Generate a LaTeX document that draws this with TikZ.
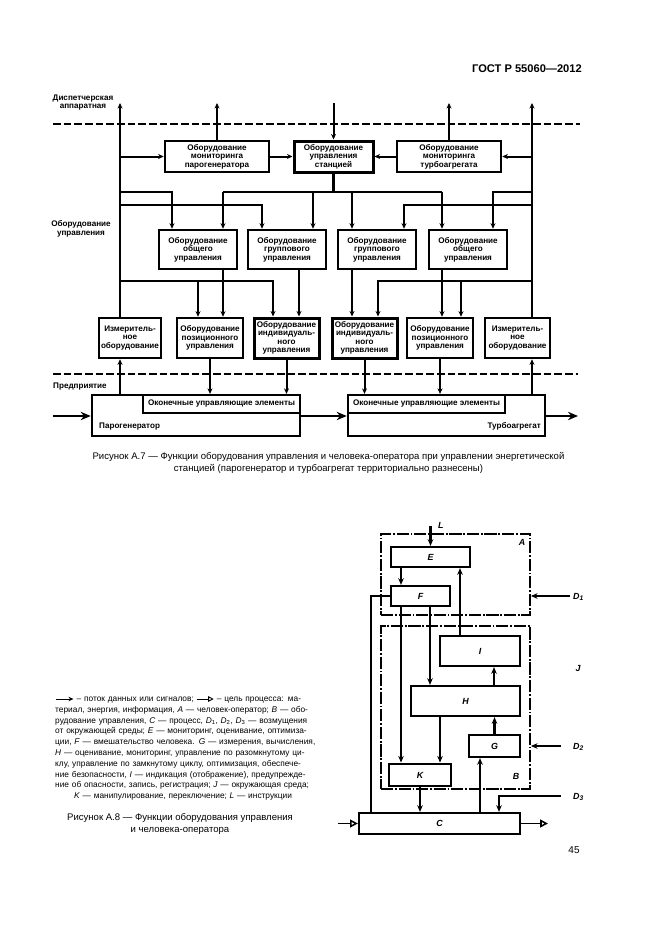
\documentclass[tikz,border=0pt]{standalone}
\usepackage{fontspec}
\setmainfont{Liberation Sans}
\usetikzlibrary{arrows.meta}
\begin{document}
\begin{tikzpicture}[x=0.9pt,y=-0.9pt,
  bfsm/.style={font=\fontsize{7.3}{7.7}\selectfont\bfseries},
  bx/.style={draw,line width=2.3pt,fill=white,inner sep=0pt,align=center,bfsm},
  bxthick/.style={bx,line width=2.7pt},
  ln/.style={line width=1.8pt},
  lnthick/.style={line width=2.3pt},
  tip/.style={-{Stealth[length=5pt,width=4.5pt]}},
  flow/.style={line width=2.6pt,-{Stealth[length=9pt,width=7.5pt]}},
  dsh/.style={line width=2.1pt,dash pattern=on 7pt off 2.6pt},
  lbl/.style={bfsm,align=center,inner sep=0pt},
  captxt/.style={font=\fontsize{8.6}{10.8}\selectfont,align=center,inner sep=0pt},
  eb/.style={draw,line width=2pt,fill=white,inner sep=0pt,font=\fontsize{8}{9}\selectfont\bfseries\itshape},
  rg/.style={draw,line width=1.6pt,dash pattern=on 11pt off 1.6pt on 1.6pt off 1.6pt,inner sep=0pt},
  l8/.style={line width=1.5pt},
  l8t/.style={line width=2.6pt},
  tip8/.style={-{Stealth[length=6pt,width=5pt]}},
  opn/.style={line width=1.5pt,-{Triangle[open,length=7pt,width=7pt,line width=1.4pt]}},
  lt/.style={font=\fontsize{8}{9}\selectfont\bfseries\itshape,inner sep=0pt},
]
\useasboundingbox (0,0) rectangle (661,935);

% header
\node[anchor=base east,inner sep=0pt,font=\fontsize{10}{12}\selectfont\bfseries] (hdr) at (582,72) {ГОСТ Р 55060—2012};

% ===== Figure A.7 =====
\draw[dsh] (53,124) -- (580,124);
\draw[dsh] (53,374) -- (578,374);

\node[lbl] (ldisp) at (83,102.5) {Диспетчерская\\аппаратная};
\node[lbl] (lupr) at (81,229) {Оборудование\\управления};
\node[lbl,anchor=west] (lpred) at (53,387) {Предприятие};

\node[bx,minimum width=93.6pt,minimum height=27.9pt] (P) at (217,156.5) {Оборудование\\мониторинга\\парогенератора};
\node[bxthick,minimum width=71.1pt,minimum height=27.9pt] (S) at (333.5,156.5) {Оборудование\\управления\\станцией};
\node[bx,minimum width=93.6pt,minimum height=27.9pt] (T) at (449,156.5) {Оборудование\\мониторинга\\турбоагрегата};

\node[bx,minimum width=70.2pt,minimum height=35.1pt] (B1) at (198,249.5) {Оборудование\\общего\\управления};
\node[bx,minimum width=70.2pt,minimum height=35.1pt] (B2) at (287,249.5) {Оборудование\\группового\\управления};
\node[bx,minimum width=70.2pt,minimum height=35.1pt] (B3) at (377,249.5) {Оборудование\\группового\\управления};
\node[bx,minimum width=70.2pt,minimum height=35.1pt] (B4) at (468,249.5) {Оборудование\\общего\\управления};

\node[bx,minimum width=55.8pt,minimum height=36pt] (M1) at (130,338) {Измеритель-\\ное\\оборудование};
\node[bx,minimum width=59.4pt,minimum height=36pt] (PL) at (210,338) {Оборудование\\позиционного\\управления};
\node[bxthick,minimum width=58.5pt,minimum height=36pt] (IL) at (286.5,338) {Оборудование\\индивидуаль-\\ного\\управления};
\node[bxthick,minimum width=58.5pt,minimum height=36pt] (IR) at (364.5,338) {Оборудование\\индивидуаль-\\ного\\управления};
\node[bx,minimum width=59.4pt,minimum height=36pt] (PR) at (440,338) {Оборудование\\позиционного\\управления};
\node[bx,minimum width=58.5pt,minimum height=36pt] (M2) at (517.5,338) {Измеритель-\\ное\\оборудование};

\node[bx,minimum width=187.2pt,minimum height=36.9pt] (PG) at (196,415.5) {};
\node[bx,line width=2pt,minimum width=141.3pt,minimum height=16.2pt] (OL) at (221.5,404) {Оконечные управляющие элементы};
\node[bfsm,anchor=base west,inner sep=0pt] (pgl) at (99,428) {Парогенератор};
\node[bx,minimum width=177.3pt,minimum height=36.9pt] (TA) at (446.5,415.5) {};
\node[bx,line width=2pt,minimum width=141.3pt,minimum height=16.2pt] (OR) at (426.5,404) {Оконечные управляющие элементы};
\node[bfsm,anchor=base east,inner sep=0pt] (tal) at (541,428) {Турбоагрегат};

\foreach \xx in {120,532,172,223,262,313,352,404,442,493,198,273,299,378,461}
  \coordinate (c\xx) at (\xx,0);
\coordinate (top) at (0,103);
\coordinate (h1) at (0,192);
\coordinate (h2) at (0,205);
\coordinate (h3) at (0,281);

\draw[ln,tip] (M1.north -| c120) -- (c120 |- top);
\draw[ln,tip] (P.north) -- (P.north |- top);
\draw[ln,tip] (S.north |- top) -- (S.north);
\draw[ln,tip] (T.north) -- (T.north |- top);
\draw[ln,tip] (M2.north -| c532) -- (c532 |- top);
\draw[ln,tip] (P.west -| c120) -- (P.west);
\draw[ln,tip] (P.east) -- (S.west);
\draw[ln,tip] (T.west) -- (S.east);
\draw[ln,tip] (T.east -| c532) -- (T.east);

\draw[lnthick] (S.south) -- (S.south |- h1);
\draw[lnthick] (c223 |- h1) -- (c442 |- h1);
\draw[lnthick,tip] (c223 |- h1) -- (c223 |- B1.north);
\draw[ln,tip] (c313 |- h1) -- (c313 |- B2.north);
\draw[ln,tip] (c352 |- h1) -- (c352 |- B3.north);
\draw[lnthick,tip] (c442 |- h1) -- (c442 |- B4.north);
\draw[ln,tip] (c120 |- h1) -| (c172 |- B1.north);
\draw[ln,tip] (c120 |- h2) -| (c262 |- B2.north);
\draw[ln,tip] (c532 |- h1) -| (c493 |- B4.north);
\draw[ln,tip] (c532 |- h2) -| (c404 |- B3.north);

\draw[lnthick,tip] (c223 |- B1.south) -- (c223 |- PL.north);
\draw[ln,tip] (c299 |- B2.south) -- (c299 |- IL.north);
\draw[ln,tip] (c352 |- B3.south) -- (c352 |- IR.north);
\draw[lnthick,tip] (c442 |- B4.south) -- (c442 |- PR.north);
\draw[ln,tip] (c120 |- h3) -| (c273 |- IL.north);
\draw[ln,tip] (c198 |- h3) -- (c198 |- PL.north);
\draw[ln,tip] (c532 |- h3) -| (c378 |- IR.north);
\draw[ln,tip] (c461 |- h3) -- (c461 |- PR.north);

\draw[ln,tip] (c120 |- PG.north) -- (c120 |- M1.south);
\draw[ln,tip] (c532 |- TA.north) -- (c532 |- M2.south);
\draw[ln,tip] (PL.south) -- (PL.south |- OL.north);
\draw[ln,tip] (IL.south) -- (IL.south |- OL.north);
\draw[ln,tip] (IR.south) -- (IR.south |- OR.north);
\draw[ln,tip] (PR.south) -- (PR.south |- OR.north);

\coordinate (fin) at (53,416);
\coordinate (fout) at (578,416);
\draw[flow] (fin) -- (fin -| PG.west);
\draw[flow] (PG.east |- fin) -- (TA.west |- fin);
\draw[flow] (TA.east |- fout) -- (fout);

\node[captxt] (cap7) at (328.5,463) {Рисунок А.7 — Функции оборудования управления и человека-оператора при управлении энергетической\\станцией (парогенератор и турбоагрегат территориально разнесены)};

% ===== Figure A.8 =====
\node[rg,minimum width=134.1pt,minimum height=72.9pt] (RA) at (455.5,574.5) {};
\node[rg,minimum width=134.1pt,minimum height=146.7pt] (RB) at (455.5,707.5) {};
\node[eb,minimum width=71.1pt,minimum height=18pt] (E) at (430.5,557) {E};
\node[eb,minimum width=53.1pt,minimum height=18pt] (F) at (420.5,596) {F};
\node[eb,minimum width=72pt,minimum height=27pt] (I) at (480,651) {I};
\node[eb,minimum width=98.1pt,minimum height=27pt] (H) at (465.5,701) {H};
\node[eb,minimum width=45.9pt,minimum height=19.8pt] (G) at (494.5,746) {G};
\node[eb,line width=2.6pt,minimum width=55.8pt,minimum height=19.8pt] (K) at (420,775) {K};
\node[eb,minimum width=144.9pt,minimum height=18.9pt] (C) at (439.5,823.5) {C};

\node[lt,anchor=west] (lL) at (438,525) {L};
\node[lt] (lA) at (522,542) {A};
\node[lt,anchor=west] (lD1) at (573,597) {D\textsubscript{1}};
\node[lt] (lJ) at (578,668) {J};
\node[lt,anchor=west] (lD2) at (573,747) {D\textsubscript{2}};
\node[lt] (lB) at (516,776) {B};
\node[lt,anchor=west] (lD3) at (573,797) {D\textsubscript{3}};

\foreach \xx in {401,460,371,430,494,440,480,499}
  \coordinate (c\xx) at (\xx,0);
\coordinate (Lin) at (430.5,526);
\coordinate (D1s) at (570,596);
\coordinate (D2s) at (561,746);
\coordinate (D3s) at (561,796);
\coordinate (Cin) at (338,823.5);
\coordinate (Cout) at (548,823.5);

\draw[l8t,tip8] (Lin) -- (E.north);
\draw[l8,tip8] (c401 |- E.south) -- (c401 |- F.north);
\draw[l8,tip8] (c460 |- I.north) -- (c460 |- E.south);
\draw[l8] (F.west) -| (c371 |- C.north);
\draw[l8,tip8] (c401 |- F.south) -- (c401 |- K.north);
\draw[l8t,tip8] (c430 |- F.south) -- (c430 |- H.north);
\draw[l8t,tip8] (c494 |- H.north) -- (c494 |- I.south);
\draw[l8t,tip8] (G.north) -- (G.north |- H.south);
\draw[l8t,tip8] (c440 |- H.south) -- (c440 |- K.north);
\draw[l8,tip8] (K.south) -- (K.south |- C.north);
\draw[l8,tip8] (c480 |- C.north) -- (c480 |- G.south);
\draw[l8t,tip8] (D1s) -- (D1s -| RA.east);
\draw[l8t,tip8] (D2s) -- (D2s -| RB.east);
\draw[l8t,tip8] (D3s) -| (c499 |- C.north);
\draw[opn] (Cin) -- (C.west);
\draw[opn] (C.east) -- (Cout);

% legend
\node[anchor=north west,inner sep=0pt,text width=230pt,font=\fontsize{7.5}{9.7}\selectfont] (leg) at (55,696) {%
\hbox to\linewidth{\tikz[baseline=-0.6ex]\draw[line width=0.8pt,-{Stealth[length=4.5pt,width=4pt]}] (0pt,0pt) -- (16pt,0pt); -- поток данных или сигналов; \tikz[baseline=-0.6ex]\draw[line width=0.8pt,-{Triangle[open,length=5pt,width=5pt]}] (0pt,0pt) -- (15pt,0pt); -- цель процесса: ма-}
\hbox to\linewidth{териал, энергия, информация, \textit{A} — человек-оператор; \textit{B} — обо-}
\hbox to\linewidth{рудование управления, \textit{C} — процесс, \textit{D}\textsubscript{1}, \textit{D}\textsubscript{2}, \textit{D}\textsubscript{3} — возмущения}
\hbox to\linewidth{от окружающей среды; \textit{E} — мониторинг, оценивание, оптимиза-}
\hbox to\linewidth{ции, \textit{F} — вмешательство человека. \textit{G} — измерения, вычисления,}
\hbox to\linewidth{\textit{H} — оценивание, мониторинг, управление по разомкнутому ци-}
\hbox to\linewidth{клу, управление по замкнутому циклу, оптимизация, обеспече-}
\hbox to\linewidth{ние безопасности, \textit{I} — индикация (отображение), предупрежде-}
\hbox to\linewidth{ние об опасности, запись, регистрация; \textit{J} — окружающая среда;}
\hbox to\linewidth{\hfil\textit{K} — манипулирование, переключение; \textit{L} — инструкции\hfil}};

\node[captxt] (cap8) at (180,824) {Рисунок А.8 — Функции оборудования управления\\и человека-оператора};

\node[inner sep=0pt,font=\fontsize{9}{10}\selectfont] (pgn) at (574,850) {45};
\end{tikzpicture}
\end{document}
